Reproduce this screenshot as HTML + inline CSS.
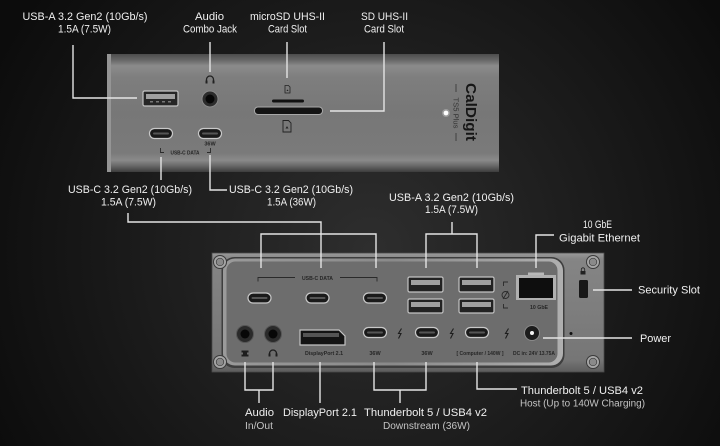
<!DOCTYPE html>
<html><head><meta charset="utf-8"><style>
html,body{margin:0;padding:0;background:#111;width:720px;height:446px;overflow:hidden;}
svg{display:block;}
text{font-family:"Liberation Sans",sans-serif;}
.lb{fill:#f0f0f0;font-size:11px;}
.sb{fill:#c4c4c4;font-size:10px;}
.sm{fill:#262626;font-size:5.5px;font-weight:bold;}
.ln{fill:none;stroke:#e4e4e4;stroke-width:1.4;}
.dk{fill:none;stroke:#2a2a2a;stroke-width:0.9;}
</style></head><body>
<svg width="720" height="446" viewBox="0 0 720 446" xmlns="http://www.w3.org/2000/svg">
<defs>
<radialGradient id="bg" gradientUnits="userSpaceOnUse" cx="370" cy="250" r="420">
<stop offset="0" stop-color="#2e2e2e"/><stop offset="0.5" stop-color="#1d1d1d"/><stop offset="1" stop-color="#0c0c0c"/>
</radialGradient>
<linearGradient id="tb" gradientUnits="userSpaceOnUse" x1="0" y1="54" x2="0" y2="172">
<stop offset="0" stop-color="#4c4c4c"/><stop offset="0.05" stop-color="#666"/><stop offset="0.1" stop-color="#8b8b8b"/>
<stop offset="0.2" stop-color="#7e7e7e"/><stop offset="0.5" stop-color="#777"/><stop offset="0.84" stop-color="#7a7a7a"/>
<stop offset="0.9" stop-color="#8a8a8a"/><stop offset="0.95" stop-color="#666"/><stop offset="1" stop-color="#3c3c3c"/>
</linearGradient>
<linearGradient id="pl" gradientUnits="userSpaceOnUse" x1="0" y1="253" x2="0" y2="372">
<stop offset="0" stop-color="#9a9a9a"/><stop offset="0.05" stop-color="#858585"/><stop offset="0.9" stop-color="#767676"/><stop offset="1" stop-color="#5c5c5c"/>
</linearGradient>
<linearGradient id="bev" gradientUnits="userSpaceOnUse" x1="222" y1="0" x2="564" y2="0">
<stop offset="0" stop-color="#9a9a9a"/><stop offset="0.5" stop-color="#8a8a8a"/><stop offset="1" stop-color="#b0b0b0"/>
</linearGradient>
</defs>
<rect width="720" height="446" fill="url(#bg)"/>

<!-- ===== TOP DEVICE ===== -->
<rect x="107" y="54" width="392" height="118" fill="url(#tb)"/>
<rect x="107" y="54" width="4" height="118" fill="#959595"/>
<!-- USB-A -->
<rect x="143" y="91" width="35" height="15" rx="1.5" fill="#262626" stroke="#c4c4c4" stroke-width="1.2"/>
<rect x="146" y="94" width="29" height="5" fill="#a0a0a0"/>
<rect x="150" y="101" width="3" height="1.5" fill="#777"/><rect x="156" y="101" width="3" height="1.5" fill="#777"/><rect x="162" y="101" width="3" height="1.5" fill="#777"/><rect x="168" y="101" width="3" height="1.5" fill="#777"/>
<!-- audio -->
<path d="M206.5 82 v-2.5 a3.5 3.5 0 0 1 7 0 v2.5" fill="none" stroke="#222" stroke-width="1.3"/>
<rect x="205.5" y="80.5" width="2" height="3" fill="#222"/><rect x="212.5" y="80.5" width="2" height="3" fill="#222"/>
<circle cx="210" cy="99" r="8" fill="#2c2c2c" stroke="#8a8a8a" stroke-width="1"/>
<circle cx="210" cy="99" r="4.5" fill="#070707"/>
<!-- USB-C -->
<rect x="149.5" y="128.5" width="23" height="10" rx="5" fill="#1a1a1a" stroke="#c8c8c8" stroke-width="1.2"/>
<rect x="153" y="132.5" width="16" height="2" rx="1" fill="#555"/>
<rect x="198.5" y="128.5" width="23" height="10" rx="5" fill="#1a1a1a" stroke="#c8c8c8" stroke-width="1.2"/>
<rect x="202" y="132.5" width="16" height="2" rx="1" fill="#555"/>
<text class="sm" x="210" y="145.5" text-anchor="middle">36W</text>
<path class="dk" d="M160.5 148 V152.5 H164"/>
<path class="dk" d="M210.5 148 V152.5 H207"/>
<text class="sm" x="185" y="154.5" text-anchor="middle" textLength="29" lengthAdjust="spacingAndGlyphs" font-size="5">USB-C DATA</text>
<!-- SD -->
<path d="M285 85.5 h3.5 l1.5 1.5 v6 h-5 z" fill="none" stroke="#222" stroke-width="0.8"/>
<path d="M286.5 91 l1 -1.6 l1 1.6 z" fill="#222"/>
<rect x="272" y="99.5" width="32" height="3" rx="1.5" fill="#111"/>
<rect x="254.5" y="107" width="68" height="7.5" rx="3.5" fill="#141414" stroke="#a8a8a8" stroke-width="1"/>
<path d="M283 120.5 h5.5 l2.5 2.5 v9 h-8 z" fill="none" stroke="#222" stroke-width="0.9"/>
<path d="M285.5 128.5 l1.5 -2.4 l1.5 2.4 z" fill="#222"/>
<!-- logo -->
<text transform="translate(466,112) rotate(90)" text-anchor="middle" font-size="15" font-weight="bold" fill="#161616" textLength="58" lengthAdjust="spacingAndGlyphs">CalDigit</text>
<text transform="translate(453.5,113) rotate(90)" text-anchor="middle" font-size="7" fill="#333" textLength="31" lengthAdjust="spacingAndGlyphs">TS5 Plus</text>
<path d="M456 84 V92 M456 133 V141" stroke="#333" stroke-width="0.8"/>
<circle cx="446" cy="113" r="4" fill="#ddd" opacity="0.35"/>
<circle cx="446" cy="113" r="2.4" fill="#fff"/>

<!-- top labels -->
<text class="lb" x="85" y="20" text-anchor="middle" textLength="125" lengthAdjust="spacingAndGlyphs">USB-A 3.2 Gen2 (10Gb/s)</text>
<text class="lb" x="84.5" y="32.5" text-anchor="middle" textLength="53" lengthAdjust="spacingAndGlyphs">1.5A (7.5W)</text>
<text class="lb" x="209.5" y="20" text-anchor="middle" textLength="29" lengthAdjust="spacingAndGlyphs">Audio</text>
<text class="lb" x="210" y="32.5" text-anchor="middle" textLength="54" lengthAdjust="spacingAndGlyphs">Combo Jack</text>
<text class="lb" x="287.5" y="20" text-anchor="middle" textLength="75" lengthAdjust="spacingAndGlyphs">microSD UHS-II</text>
<text class="lb" x="287.5" y="32.5" text-anchor="middle" textLength="39" lengthAdjust="spacingAndGlyphs">Card Slot</text>
<text class="lb" x="384.5" y="20" text-anchor="middle" textLength="47" lengthAdjust="spacingAndGlyphs">SD UHS-II</text>
<text class="lb" x="384" y="32.5" text-anchor="middle" textLength="40" lengthAdjust="spacingAndGlyphs">Card Slot</text>
<text class="lb" x="130" y="193" text-anchor="middle" textLength="124" lengthAdjust="spacingAndGlyphs">USB-C 3.2 Gen2 (10Gb/s)</text>
<text class="lb" x="128.5" y="205.5" text-anchor="middle" textLength="55" lengthAdjust="spacingAndGlyphs">1.5A (7.5W)</text>
<text class="lb" x="291" y="193" text-anchor="middle" textLength="124" lengthAdjust="spacingAndGlyphs">USB-C 3.2 Gen2 (10Gb/s)</text>
<text class="lb" x="291.5" y="205.5" text-anchor="middle" textLength="49" lengthAdjust="spacingAndGlyphs">1.5A (36W)</text>

<path class="ln" d="M73 45 V98 H137"/>
<path class="ln" d="M210 42 V72"/>
<path class="ln" d="M287 42 V78"/>
<path class="ln" d="M384 42 V111 H330"/>
<path class="ln" d="M161 157 V180"/>
<path class="ln" d="M210 155 V190 H227"/>

<!-- ===== BOTTOM DEVICE ===== -->
<rect x="212" y="253" width="392" height="119" fill="url(#pl)" stroke="#4a4a4a" stroke-width="0.8"/>
<rect x="221.5" y="257" width="343" height="111" rx="13" fill="#3e3e3e"/>
<rect x="223" y="258.5" width="340" height="107" rx="12" fill="url(#bev)"/>
<rect x="226.5" y="261.5" width="331" height="101" rx="9" fill="#6d6d6d"/>
<!-- screws -->
<g stroke="#3a3a3a">
<circle cx="220" cy="262" r="6.5" fill="#a6a6a6" stroke-width="1"/><circle cx="220" cy="262" r="3.8" fill="#8a8a8a" stroke-width="0.7"/>
<circle cx="220" cy="362" r="6.5" fill="#a6a6a6" stroke-width="1"/><circle cx="220" cy="362" r="3.8" fill="#8a8a8a" stroke-width="0.7"/>
<circle cx="593" cy="262" r="6.5" fill="#a6a6a6" stroke-width="1"/><circle cx="593" cy="262" r="3.8" fill="#8a8a8a" stroke-width="0.7"/>
<circle cx="593" cy="362" r="6.5" fill="#a6a6a6" stroke-width="1"/><circle cx="593" cy="362" r="3.8" fill="#8a8a8a" stroke-width="0.7"/>
</g>
<!-- USB-C DATA bracket -->
<path class="dk" d="M258 281.5 V277.5 H295 M340 277.5 H377 V281.5"/>
<text class="sm" x="317.5" y="280" text-anchor="middle" textLength="31" lengthAdjust="spacingAndGlyphs">USB-C DATA</text>
<!-- top-row USB-C -->
<g fill="#1a1a1a" stroke="#c8c8c8" stroke-width="1.2">
<rect x="248" y="293" width="23" height="10" rx="5"/>
<rect x="306" y="293" width="23" height="10" rx="5"/>
<rect x="363.5" y="293" width="23" height="10" rx="5"/>
<rect x="363.5" y="327.5" width="23" height="10" rx="5"/>
<rect x="415.5" y="327.5" width="23" height="10" rx="5"/>
<rect x="465.5" y="327.5" width="23" height="10" rx="5"/>
</g>
<g fill="#555">
<rect x="251.5" y="297" width="16" height="2" rx="1"/>
<rect x="309.5" y="297" width="16" height="2" rx="1"/>
<rect x="367" y="297" width="16" height="2" rx="1"/>
<rect x="367" y="331.5" width="16" height="2" rx="1"/>
<rect x="419" y="331.5" width="16" height="2" rx="1"/>
<rect x="469" y="331.5" width="16" height="2" rx="1"/>
</g>
<!-- audio jacks -->
<circle cx="245" cy="334" r="8.5" fill="#2a2a2a" stroke="#555" stroke-width="1"/><circle cx="245" cy="334" r="4.5" fill="#070707"/>
<circle cx="273" cy="334" r="8.5" fill="#2a2a2a" stroke="#555" stroke-width="1"/><circle cx="273" cy="334" r="4.5" fill="#070707"/>
<rect x="241.5" y="350.5" width="7" height="6" fill="#1e1e1e"/>
<rect x="241.5" y="352.5" width="1.5" height="2" fill="#6d6d6d"/><rect x="247" y="352.5" width="1.5" height="2" fill="#6d6d6d"/>
<path d="M269.5 356 v-2.5 a3.5 3.5 0 0 1 7 0 v2.5" fill="none" stroke="#1e1e1e" stroke-width="1.3"/>
<rect x="268.5" y="353.5" width="2" height="3" fill="#1e1e1e"/><rect x="275.5" y="353.5" width="2" height="3" fill="#1e1e1e"/>
<!-- DisplayPort -->
<path d="M300 330 H339 L345 336 V345 H300 Z" fill="#141414" stroke="#c4c4c4" stroke-width="1.2"/>
<rect x="303" y="333" width="36" height="4" fill="#555"/>
<text class="sm" x="324" y="355" text-anchor="middle" textLength="38" lengthAdjust="spacingAndGlyphs">DisplayPort 2.1</text>
<text class="sm" x="375" y="355" text-anchor="middle">36W</text>
<text class="sm" x="427" y="355" text-anchor="middle">36W</text>
<text class="sm" x="480" y="355" text-anchor="middle" textLength="47" lengthAdjust="spacingAndGlyphs">[ Computer / 140W ]</text>
<text class="sm" x="534" y="355" text-anchor="middle" textLength="42" lengthAdjust="spacingAndGlyphs">DC in: 24V 13.75A</text>
<!-- bolts -->
<g fill="none" stroke="#1e1e1e" stroke-width="1.1">
<path d="M401.5 328.5 L398.5 333.5 L401 333.5 L398.5 338.5"/>
<path d="M453.5 328.5 L450.5 333.5 L453 333.5 L450.5 338.5"/>
<path d="M508.5 328.5 L505.5 333.5 L508 333.5 L505.5 338.5"/>
</g>
<!-- USB-A 2x2 -->
<g fill="#222" stroke="#c4c4c4" stroke-width="1.2">
<rect x="408" y="277" width="35" height="15" rx="1.5"/>
<rect x="459" y="277" width="35" height="15" rx="1.5"/>
<rect x="408" y="299" width="35" height="14" rx="1.5"/>
<rect x="459" y="299" width="35" height="14" rx="1.5"/>
</g>
<g fill="#a0a0a0">
<rect x="411" y="280" width="29" height="5"/><rect x="462" y="280" width="29" height="5"/>
<rect x="411" y="302" width="29" height="5"/><rect x="462" y="302" width="29" height="5"/>
</g>
<!-- ethernet -->
<path class="dk" d="M508 282 H503.5 V286 M508 308 H503.5 V304"/>
<circle cx="505.5" cy="295" r="3.5" fill="none" stroke="#2a2a2a" stroke-width="0.9"/>
<path class="dk" d="M508 291 L503 299"/>
<rect x="528" y="272.5" width="16" height="4" fill="#b8b8b8"/>
<rect x="516" y="275" width="40" height="25" fill="#b0b0b0"/>
<rect x="519" y="278" width="34" height="20" fill="#0e0e0e"/>
<text class="sm" x="539" y="309" text-anchor="middle" textLength="18" lengthAdjust="spacingAndGlyphs">10 GbE</text>
<!-- power -->
<circle cx="532" cy="333" r="7.5" fill="#1c1c1c" stroke="#8a8a8a" stroke-width="1"/>
<circle cx="532" cy="333" r="2" fill="#f4f4f4"/>
<circle cx="571" cy="333.5" r="1.5" fill="#111"/>
<!-- lock & security slot -->
<path d="M581.3 271 v-1.5 a1.7 1.7 0 0 1 3.4 0 v1.5" fill="none" stroke="#222" stroke-width="0.8"/>
<rect x="580.5" y="271" width="5" height="3.5" fill="#222"/>
<rect x="579" y="280" width="9" height="18" rx="1.5" fill="#181818"/>

<!-- bottom-device labels -->
<text class="lb" x="451.5" y="201" text-anchor="middle" textLength="125" lengthAdjust="spacingAndGlyphs">USB-A 3.2 Gen2 (10Gb/s)</text>
<text class="lb" x="451.5" y="213" text-anchor="middle" textLength="53" lengthAdjust="spacingAndGlyphs">1.5A (7.5W)</text>
<text class="lb" x="597.5" y="228" text-anchor="middle" textLength="29" lengthAdjust="spacingAndGlyphs">10 GbE</text>
<text class="lb" x="599.5" y="241.5" text-anchor="middle" textLength="81" lengthAdjust="spacingAndGlyphs">Gigabit Ethernet</text>
<text class="lb" x="638" y="293.5" textLength="62" lengthAdjust="spacingAndGlyphs">Security Slot</text>
<text class="lb" x="640" y="342" textLength="31" lengthAdjust="spacingAndGlyphs">Power</text>
<text class="lb" x="259.5" y="416" text-anchor="middle" textLength="29" lengthAdjust="spacingAndGlyphs">Audio</text>
<text class="sb" x="259" y="429" text-anchor="middle" textLength="28" lengthAdjust="spacingAndGlyphs">In/Out</text>
<text class="lb" x="320" y="416" text-anchor="middle" textLength="74" lengthAdjust="spacingAndGlyphs">DisplayPort 2.1</text>
<text class="lb" x="425.5" y="416" text-anchor="middle" textLength="123" lengthAdjust="spacingAndGlyphs">Thunderbolt 5 / USB4 v2</text>
<text class="sb" x="426.5" y="429" text-anchor="middle" textLength="87" lengthAdjust="spacingAndGlyphs">Downstream (36W)</text>
<text class="lb" x="521" y="394" textLength="122" lengthAdjust="spacingAndGlyphs">Thunderbolt 5 / USB4 v2</text>
<text class="sb" x="520" y="406.5" textLength="125" lengthAdjust="spacingAndGlyphs">Host (Up to 140W Charging)</text>

<!-- connector lines -->
<path class="ln" d="M128 213 V222 H321 V268"/>
<path class="ln" d="M261 268 V234 H376 V268"/>
<path class="ln" d="M452 222 V234"/>
<path class="ln" d="M426 268 V234 H477 V268"/>
<path class="ln" d="M536 268 V235 H554"/>
<path class="ln" d="M593 290 H632"/>
<path class="ln" d="M543 338 H632"/>
<path class="ln" d="M245 362 V390 H273 V362"/>
<path class="ln" d="M259 390 V403"/>
<path class="ln" d="M320 362 V403"/>
<path class="ln" d="M374 362 V390 H426 V362"/>
<path class="ln" d="M400 390 V403"/>
<path class="ln" d="M477 362 V389 H517"/>
</svg>
</body></html>
